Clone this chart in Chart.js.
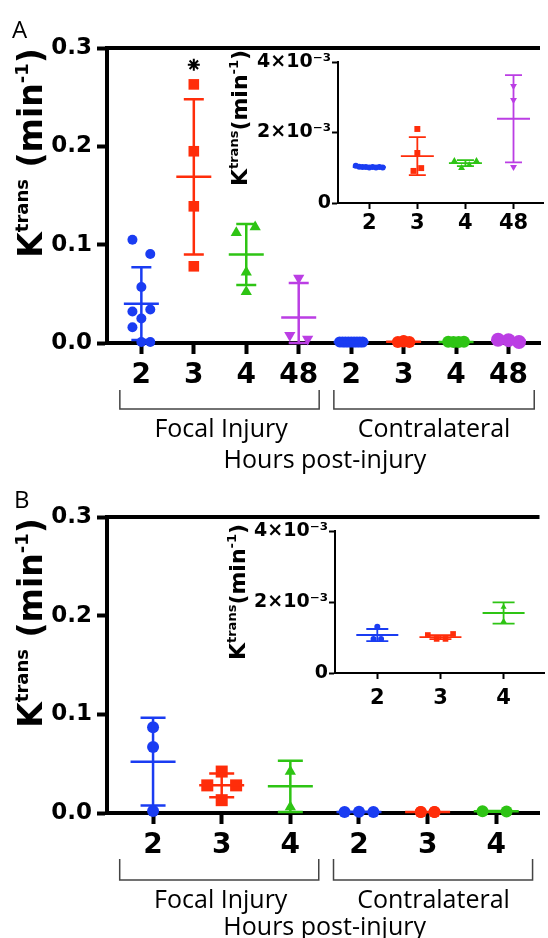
<!DOCTYPE html>
<html lang="en">
<head>
<meta charset="UTF-8">
<title>Ktrans</title>
<script src="https://cdn.jsdelivr.net/npm/chart.js"></script>
<style>
  body { margin: 0; background: #fff; }
  .wrap { position: relative; width: 548px; height: 938px; overflow: hidden; }
  canvas { position: absolute; }
</style>
</head>
<body>
<div class="wrap">
  <canvas id="mainA" width="548" height="480" style="left:0px;top:0px"></canvas>
  <canvas id="mainB" width="548" height="468" style="left:0px;top:470px"></canvas>
  <canvas id="insetA" width="328" height="205" style="left:220px;top:30px"></canvas>
  <canvas id="insetB" width="328" height="210" style="left:220px;top:500px"></canvas>
</div>
<script>
// ---------- panel A ----------
const labelsA = ['2', '3', '4', '48', '2', '3', '4', '48'];
const insetLabelsA = ['2', '3', '4', '48'];
const focalA2h = [0.105, 0.0905, 0.057, 0.032, 0.034, 0.025, 0.016, 0.001, 0.001];
const focalA3h = [0.263, 0.195, 0.139, 0.078];
const focalA4h = [0.118, 0.112, 0.072, 0.052];
const focalA48h = [0.066, 0.008, 0.004];
const contraA2h = [1.06e-3, 1.03e-3, 1.02e-3, 1.02e-3, 1.01e-3, 1.02e-3, 1.01e-3, 1.02e-3, 1.01e-3];
const contraA3h = [2.10e-3, 1.42e-3, 0.91e-3, 0.99e-3];
const contraA4h = [1.19e-3, 0.99e-3, 1.08e-3, 1.19e-3];
const contraA48h = [3.32e-3, 2.92e-3, 1.02e-3];
const meanA = [0.040, 0.169, 0.090, 0.026, 1.02e-3, 1.33e-3, 1.13e-3, 2.39e-3];
const sdA = [0.037, 0.079, 0.031, 0.035, 0.02e-3, 0.54e-3, 0.085e-3, 1.24e-3];
const starA = [{ x: 1, y: 0.283 }];

// horizontal scatter of the dots, in category widths
const jitA2h = [-0.17, 0.17, 0, -0.17, 0.17, 0, -0.17, 0, 0.17];
const jitA4h = [0.17, -0.19, 0, 0];
const jitA48h = [0, -0.17, 0.17];
const jitAc2h = [-0.22, -0.165, -0.11, -0.055, 0, 0.055, 0.11, 0.165, 0.22];
const jitAc3h = [0, 0, -0.11, 0.11];
const jitAc4h = [-0.15, -0.05, 0.05, 0.15];
const jitAc48h = [-0.2, 0, 0.2];
const jitIAc2h = [-0.28, -0.21, -0.14, -0.07, 0, 0.07, 0.14, 0.21, 0.28];
const jitIAc3h = [0, 0, -0.08, 0.08];
const jitIAc4h = [-0.23, -0.08, 0.08, 0.23];

// ---------- panel B ----------
const labelsB = ['2', '3', '4', '2', '3', '4'];
const insetLabelsB = ['2', '3', '4'];
const focalB2h = [0.087, 0.067, 0.002];
const focalB3h = [0.042, 0.028, 0.028, 0.013];
const focalB4h = [0.042, 0.006];
const contraB2h = [1.30e-3, 0.96e-3, 0.96e-3];
const contraB3h = [1.07e-3, 0.96e-3, 0.96e-3, 1.10e-3];
const contraB4h = [1.86e-3, 1.46e-3];
const meanB = [0.052, 0.028, 0.027, 1.07e-3, 1.01e-3, 1.69e-3];
const sdB = [0.0445, 0.012, 0.026, 0.17e-3, 0.055e-3, 0.30e-3];

const jitB3h = [0, -0.21, 0.21, 0];
const jitBc2h = [0, -0.21, 0.21];
const jitBc3h = [-0.1, -0.1, 0.1, 0.1];
const jitBc4h = [-0.2, 0.15];
const jitIBc2h = [0, -0.06, 0.06];
const jitIBc3h = [-0.2, -0.06, 0.08, 0.2];

const mainYTicks = [0, 0.1, 0.2, 0.3];
const insetYTicks = [0, 0.002, 0.004];
const groupNames = ['Focal Injury', 'Contralateral'];

const blue = '#1a3cf2', red = '#ff2d0a', green = '#2ec414', purple = '#bb3ee4';
const colorsA = [blue, red, green, purple, blue, red, green, purple];
const colorsB = [blue, red, green, blue, red, green];
const boldFont = '"DejaVu Sans"';

function groupSet(values, center, jitter, color, style, radius, rot) {
  return {
    data: values.map((v, i) => ({ x: center + (jitter ? jitter[i] : 0), y: v })),
    backgroundColor: color, borderColor: color, borderWidth: 0,
    pointStyle: style, pointRadius: radius, pointRotation: rot || 0,
    showLine: false, clip: false
  };
}

function drawRich(ctx, runs, cx, cy) {
  ctx.save();
  ctx.translate(cx, cy);
  ctx.rotate(-Math.PI / 2);
  let w = 0;
  runs.forEach(r => { ctx.font = r.font; w += ctx.measureText(r.text).width; });
  let xx = -w / 2;
  ctx.fillStyle = '#000';
  ctx.textAlign = 'left';
  ctx.textBaseline = 'alphabetic';
  runs.forEach(r => {
    ctx.font = r.font;
    ctx.fillText(r.text, xx, -(r.rise || 0));
    xx += ctx.measureText(r.text).width;
  });
  ctx.restore();
}

function makeDecor(cfg) {
  return {
    id: 'decor',
    afterDatasetsDraw(chart) {
      const { ctx, scales: { x, y } } = chart;
      ctx.save();
      ctx.lineWidth = cfg.barWidth;
      cfg.mean.forEach((m, i) => {
        const px = x.getPixelForValue(i);
        const yHi = y.getPixelForValue(m + cfg.sd[i]);
        const yLo = y.getPixelForValue(Math.max(m - cfg.sd[i], y.min));
        const yM = y.getPixelForValue(m);
        ctx.strokeStyle = cfg.colors[i];
        ctx.beginPath();
        ctx.moveTo(px, yHi); ctx.lineTo(px, yLo);
        ctx.moveTo(px - cfg.cap, yHi); ctx.lineTo(px + cfg.cap, yHi);
        ctx.moveTo(px - cfg.cap, yLo); ctx.lineTo(px + cfg.cap, yLo);
        ctx.moveTo(px - cfg.bar, yM); ctx.lineTo(px + cfg.bar, yM);
        ctx.stroke();
      });
      ctx.restore();
    },
    afterDraw(chart) {
      const { ctx, chartArea: ca, scales: { x } } = chart;
      ctx.save();
      if (cfg.frameTop) {
        ctx.strokeStyle = '#000';
        ctx.lineWidth = 4;
        ctx.beginPath();
        ctx.moveTo(ca.left - 2, ca.top);
        ctx.lineTo(ca.right, ca.top);
        ctx.stroke();
      }
      if (cfg.brackets) {
        ctx.strokeStyle = '#444';
        ctx.lineWidth = 1.5;
        cfg.brackets.forEach(([a, b]) => {
          const x0 = x.getPixelForValue(a), x1 = x.getPixelForValue(b);
          ctx.beginPath();
          ctx.moveTo(x0, cfg.bracketTop);
          ctx.lineTo(x0, cfg.bracketBottom);
          ctx.lineTo(x1, cfg.bracketBottom);
          ctx.lineTo(x1, cfg.bracketTop);
          ctx.stroke();
        });
        ctx.fillStyle = '#000';
        ctx.textAlign = 'center';
        ctx.textBaseline = 'alphabetic';
        ctx.font = '25px "Open Sans"';
        groupNames.forEach((g, i) => ctx.fillText(g, x.getPixelForValue(cfg.groupPos[i]), cfg.groupY));
        ctx.fillText('Hours post-injury', x.getPixelForValue(cfg.titlePos), cfg.titleY);
        ctx.textAlign = 'left';
        ctx.font = '24px "Open Sans"';
        ctx.fillText(cfg.letter, cfg.letterX, cfg.letterY);
      }
      drawRich(ctx, cfg.yTitle, cfg.yTitleX, cfg.yTitleY);
      ctx.restore();
    }
  };
}

const mainTitle = [
  { text: 'K', font: 'bold 33px ' + boldFont },
  { text: 'trans', font: 'bold 18px ' + boldFont, rise: 14 },
  { text: ' (min', font: 'bold 33px ' + boldFont },
  { text: '-1', font: 'bold 18px ' + boldFont, rise: 14 },
  { text: ')', font: 'bold 33px ' + boldFont }
];
const insetTitle = [
  { text: 'K', font: 'bold 22px ' + boldFont },
  { text: 'trans', font: 'bold 13px ' + boldFont, rise: 9 },
  { text: '(min', font: 'bold 22px ' + boldFont },
  { text: '-1', font: 'bold 13px ' + boldFont, rise: 9 },
  { text: ')', font: 'bold 22px ' + boldFont }
];

function axisStyle(width, tick) {
  return {
    grid: { drawOnChartArea: false, tickLength: tick, tickWidth: width, tickColor: '#000' },
    border: { width: width, color: '#000' }
  };
}

function buildChart(id, o) {
  return new Chart(document.getElementById(id), {
    type: 'scatter',
    data: { datasets: o.datasets },
    options: {
      responsive: false,
      animation: false,
      devicePixelRatio: 1,
      layout: { padding: { top: o.top, left: 0, right: 0, bottom: 0 } },
      plugins: { legend: { display: false }, tooltip: { enabled: false } },
      scales: {
        x: Object.assign({
          type: 'linear', min: o.xMin, max: o.xMax,
          afterBuildTicks: ax => { ax.ticks = o.labels.map((_, i) => ({ value: i })); },
          afterFit: ax => { ax.height = o.xHeight; },
          ticks: {
            callback: v => o.labels[v], color: '#000', autoSkip: false, maxRotation: 0,
            font: { family: 'DejaVu Sans', weight: 'bold', size: o.xFont }, padding: o.xPad
          }
        }, axisStyle(o.axisW, o.xTick)),
        y: Object.assign({
          min: o.yTicks[0], max: o.yTicks[o.yTicks.length - 1],
          afterBuildTicks: ax => { ax.ticks = o.yTicks.map(v => ({ value: v })); },
          afterFit: ax => { ax.width = o.yWidth; },
          ticks: {
            callback: o.yFmt, color: '#000',
            font: { family: 'DejaVu Sans', weight: 'bold', size: o.yFont }, padding: o.yPad
          }
        }, axisStyle(o.axisW, o.yTick))
      }
    },
    plugins: [makeDecor(o.decor)]
  });
}

const fmtMain = v => v.toFixed(1);
const fmtInset = v => v === 0 ? '0' : Math.round(v * 1000) + '×10⁻³';

buildChart('mainA', {
  labels: labelsA, yTicks: mainYTicks, yFmt: fmtMain,
  top: 48, xMin: -0.655, xMax: 7.6, xHeight: 137, yWidth: 107,
  xFont: 28, yFont: 23, xPad: 5, yPad: 5, xTick: 11, yTick: 10, axisW: 4,
  datasets: [
    groupSet(focalA2h, 0, jitA2h, blue, 'circle', 5),
    groupSet(focalA3h, 1, null, red, 'rect', 7.5),
    groupSet(focalA4h, 2, jitA4h, green, 'triangle', 6.5),
    groupSet(focalA48h, 3, jitA48h, purple, 'triangle', 6.5, 180),
    groupSet(contraA2h, 4, jitAc2h, blue, 'circle', 5.5),
    groupSet(contraA3h, 5, jitAc3h, red, 'circle', 6),
    groupSet(contraA4h, 6, jitAc4h, green, 'circle', 6),
    groupSet(contraA48h, 7, jitAc48h, purple, 'circle', 7),
    { data: starA, pointStyle: 'star', pointRadius: 6, borderColor: '#000', borderWidth: 2, clip: false }
  ],
  decor: {
    mean: meanA, sd: sdA, colors: colorsA, barWidth: 2.5, cap: 10, bar: 17.5,
    frameTop: true, brackets: [[-0.41, 3.39], [3.67, 7.49]], bracketTop: 390, bracketBottom: 409,
    groupPos: [1.52, 5.58], groupY: 437, titlePos: 3.5, titleY: 468,
    letter: 'A', letterX: 12, letterY: 38,
    yTitle: mainTitle, yTitleX: 42, yTitleY: 153
  }
});

buildChart('mainB', {
  labels: labelsB, yTicks: mainYTicks, yFmt: fmtMain,
  top: 47, xMin: -0.671, xMax: 5.63, xHeight: 125, yWidth: 107,
  xFont: 28, yFont: 23, xPad: 5, yPad: 5, xTick: 11, yTick: 10, axisW: 4,
  datasets: [
    groupSet(focalB2h, 0, null, blue, 'circle', 6),
    groupSet(focalB3h, 1, jitB3h, red, 'rect', 8.5),
    groupSet(focalB4h, 2, null, green, 'triangle', 6.5),
    groupSet(contraB2h, 3, jitBc2h, blue, 'circle', 6),
    groupSet(contraB3h, 4, jitBc3h, red, 'circle', 6),
    groupSet(contraB4h, 5, jitBc4h, green, 'circle', 6)
  ],
  decor: {
    mean: meanB, sd: sdB, colors: colorsB, barWidth: 2.5, cap: 12.5, bar: 22.5,
    frameTop: true, brackets: [[-0.486, 2.414], [2.629, 5.529]], bracketTop: 389, bracketBottom: 410,
    groupPos: [0.986, 4.086], groupY: 438, titlePos: 2.5, titleY: 465,
    letter: 'B', letterX: 14, letterY: 38,
    yTitle: mainTitle, yTitleX: 42, yTitleY: 153
  }
});

buildChart('insetA', {
  labels: insetLabelsA, yTicks: insetYTicks, yFmt: fmtInset,
  top: 32, xMin: -0.65, xMax: 3.63, xHeight: 32, yWidth: 118,
  xFont: 21, yFont: 19, xPad: 2, yPad: 1, xTick: 6, yTick: 6, axisW: 2,
  datasets: [
    groupSet(contraA2h, 0, jitIAc2h, blue, 'circle', 3),
    groupSet(contraA3h, 1, jitIAc3h, red, 'rect', 4.2),
    groupSet(contraA4h, 2, jitIAc4h, green, 'triangle', 4),
    groupSet(contraA48h, 3, null, purple, 'triangle', 4, 180)
  ],
  decor: {
    mean: meanA.slice(4), sd: sdA.slice(4), colors: colorsA.slice(4), barWidth: 1.8, cap: 8.5, bar: 16.5,
    yTitle: insetTitle, yTitleX: 27, yTitleY: 88
  }
});

buildChart('insetB', {
  labels: insetLabelsB, yTicks: insetYTicks, yFmt: fmtInset,
  top: 31, xMin: -0.67, xMax: 2.64, xHeight: 37, yWidth: 115,
  xFont: 21, yFont: 19, xPad: 7, yPad: 1, xTick: 6, yTick: 6, axisW: 2,
  datasets: [
    groupSet(contraB2h, 0, jitIBc2h, blue, 'circle', 3),
    groupSet(contraB3h, 1, jitIBc3h, red, 'rect', 4),
    groupSet(contraB4h, 2, null, green, 'triangle', 3.5)
  ],
  decor: {
    mean: meanB.slice(3), sd: sdB.slice(3), colors: colorsB.slice(3), barWidth: 1.8, cap: 11, bar: 21,
    yTitle: insetTitle, yTitleX: 25, yTitleY: 92
  }
});
</script>
</body>
</html>
